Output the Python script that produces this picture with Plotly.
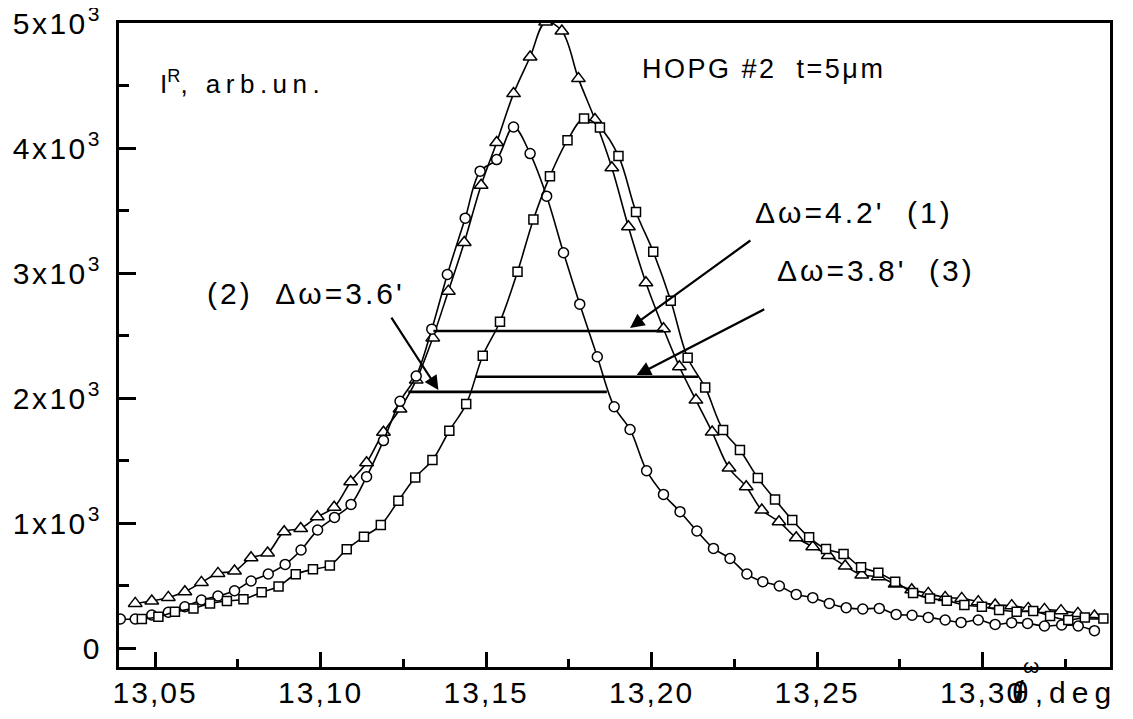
import plotly.graph_objects as go

# ---- data ----
tri_x = [13.044, 13.049, 13.054, 13.059, 13.064, 13.069, 13.074, 13.079, 13.084, 13.089,
         13.094, 13.099, 13.1041, 13.1091, 13.1139, 13.119, 13.124, 13.1289, 13.1339, 13.1386,
         13.1434, 13.1485, 13.1532, 13.1583, 13.1633, 13.168, 13.1729, 13.1779, 13.1829, 13.188,
         13.193, 13.1983, 13.2036, 13.2084, 13.2134, 13.2183, 13.2234, 13.2286, 13.2333, 13.2385,
         13.2437, 13.2487, 13.2534, 13.2585, 13.2635, 13.2685, 13.2736, 13.2786, 13.2836, 13.2887,
         13.2937, 13.2987, 13.3038, 13.3088, 13.3138, 13.3187, 13.3237, 13.3288, 13.3338]
tri_y = [357, 376, 405, 450, 525, 597, 616, 722, 760, 930,
         957, 1050, 1126, 1331, 1483, 1727, 1913, 2144, 2482, 2856,
         3245, 3704, 4046, 4437, 4730, 5010, 4938, 4557, 4229, 3843,
         3371, 2923, 2555, 2251, 1984, 1728, 1440, 1291, 1104, 1011,
         883, 811, 741, 656, 584, 571, 512, 466, 437, 405,
         397, 371, 344, 339, 317, 309, 299, 277, 256]

circ_x = [13.0395, 13.044, 13.049, 13.054, 13.059, 13.064, 13.069, 13.074, 13.079, 13.0842,
          13.0893, 13.0941, 13.0991, 13.1042, 13.1092, 13.1139, 13.119, 13.124, 13.1289, 13.1336,
          13.1383, 13.1437, 13.1482, 13.1532, 13.1583, 13.1633, 13.1683, 13.1734, 13.1783, 13.1836,
          13.1887, 13.1935, 13.1985, 13.2036, 13.2086, 13.2137, 13.2187, 13.2237, 13.2288, 13.2336,
          13.2386, 13.2437, 13.2487, 13.2537, 13.2588, 13.2638, 13.2688, 13.2739, 13.2787, 13.2836,
          13.2887, 13.2935, 13.2987, 13.3038, 13.3088, 13.3136, 13.3187, 13.3239, 13.3289, 13.3338]
circ_y = [232, 232, 264, 286, 330, 384, 416, 458, 536, 592,
          669, 784, 944, 1045, 1149, 1371, 1660, 1974, 2176, 2552,
          2989, 3440, 3816, 3909, 4170, 3957, 3616, 3163, 2752, 2331,
          1931, 1749, 1419, 1229, 1091, 936, 797, 716, 592, 531,
          496, 429, 403, 357, 323, 312, 317, 269, 262, 245,
          224, 205, 224, 189, 203, 197, 176, 184, 176, 139]

sq_x = [13.046, 13.051, 13.056, 13.0616, 13.0666, 13.0717, 13.0767, 13.0822, 13.0873, 13.0925,
        13.0977, 13.1028, 13.1079, 13.1131, 13.1182, 13.1235, 13.1286, 13.1338, 13.1389, 13.144,
        13.149, 13.1542, 13.1595, 13.1643, 13.1693, 13.1746, 13.1796, 13.1844, 13.19, 13.1953,
        13.2005, 13.2058, 13.2109, 13.2162, 13.2216, 13.2267, 13.2321, 13.2373, 13.2425, 13.2476,
        13.2527, 13.258, 13.2633, 13.2685, 13.2736, 13.279, 13.2841, 13.2892, 13.2945, 13.2998,
        13.305, 13.3103, 13.3153, 13.3204, 13.3259, 13.3309, 13.3365]
sq_y = [232, 250, 290, 317, 357, 376, 390, 446, 493, 590,
        630, 661, 790, 891, 984, 1179, 1364, 1504, 1739, 1952,
        2339, 2611, 3011, 3429, 3776, 4064, 4237, 4165, 3938, 3490,
        3171, 2779, 2323, 2085, 1744, 1584, 1361, 1189, 1024, 886,
        792, 752, 646, 603, 531, 440, 397, 379, 344, 331,
        304, 291, 296, 256, 224, 245, 237]

# FWHM bars: (1) triangles, (3) squares, (2) circles
fwhm_x0 = [13.1341, 13.1467, 13.1265]
fwhm_x1 = [13.2036, 13.2141, 13.1865]
fwhm_y = [2537, 2171, 2050]

# arrows: tail -> tip
arrow_tail_x = [13.2303, 13.2345, 13.1211]
arrow_tail_y = [3270, 2717, 2656]
arrow_tip_x = [13.1935, 13.1955, 13.1356]
arrow_tip_y = [2562, 2184, 2064]

x_tickvals = [13.05, 13.10, 13.15, 13.20, 13.25, 13.30]
x_ticklabels = ["13,05", "13,10", "13,15", "13,20", "13,25", "13,30"]
y_tickvals = [0, 1000, 2000, 3000, 4000, 5000]
y_ticklabels = ["0", "1x10<sup>3</sup>", "2x10<sup>3</sup>", "3x10<sup>3</sup>",
                "4x10<sup>3</sup>", "5x10<sup>3</sup>"]

FONT = "Liberation Sans, Arial, Helvetica, sans-serif"
NB = "\u00a0"


def spaced(text, px):
    return '<span style="letter-spacing:%spx">%s</span>' % (px, text)


fig = go.Figure()


def add_series(xs, ys, symbol, size):
    fig.add_trace(go.Scatter(
        x=xs, y=ys, mode="lines+markers",
        line=dict(color="black", width=1.6, shape="spline", smoothing=1.0),
        marker=dict(symbol=symbol, size=size, color="white",
                    line=dict(color="black", width=1.5)),
        showlegend=False, hoverinfo="skip"))


add_series(tri_x, tri_y, "triangle-up", 12)
add_series(circ_x, circ_y, "circle", 10)
add_series(sq_x, sq_y, "square", 9)

for x0, x1, y in zip(fwhm_x0, fwhm_x1, fwhm_y):
    fig.add_trace(go.Scatter(x=[x0, x1], y=[y, y], mode="lines",
                             line=dict(color="black", width=2.6),
                             showlegend=False, hoverinfo="skip"))

annotations = []
for tx, ty, hx, hy in zip(arrow_tail_x, arrow_tail_y, arrow_tip_x, arrow_tip_y):
    annotations.append(dict(x=hx, y=hy, ax=tx, ay=ty, xref="x", yref="y",
                            axref="x", ayref="y", text="", showarrow=True,
                            arrowhead=2, arrowsize=1.3, arrowwidth=2.2,
                            arrowcolor="black"))


def label(text, x, y, size, xanchor="left", ref="x"):
    annotations.append(dict(x=x, y=y, xref=ref, yref=("y" if ref == "x" else "paper"),
                            text=text, showarrow=False, xanchor=xanchor, yanchor="middle",
                            font=dict(family=FONT, size=size, color="black")))


label("I<sup>R</sup>" + spaced(", arb.un.", 5.5), 13.0509, 4528, 26)
label(spaced("HOPG #2" + NB + NB + "t=5μm", 2.5), 13.1965, 4632, 27)
label(spaced("Δω=4.2'" + NB + NB + "(1)", 3), 13.2307, 3488, 30)
label(spaced("Δω=3.8'" + NB + NB + "(3)", 3), 13.2373, 3024, 30)
label(spaced("(2)" + NB + NB + "Δω=3.6'", 3), 13.0651, 2840, 30)
# axis title  ω/θ, deg (paper coordinates, below the plot area)
label(spaced("θ,deg", 6), 0.899, -0.039, 30, ref="paper")
label("ω", 0.920, 0.003, 21, xanchor="center", ref="paper")
label("/", 0.909, -0.039, 31, xanchor="center", ref="paper")

# page body has an 8px margin: size the figure to fit the 1133x719 window
fig.update_layout(
    width=1117, height=703,
    margin=dict(l=111, r=15, t=15, b=44),
    paper_bgcolor="white", plot_bgcolor="white",
    font=dict(family=FONT, size=30, color="black"),
    annotations=annotations,
    xaxis=dict(range=[13.0391, 13.3385], showgrid=False, zeroline=False,
               showline=True, linecolor="black", linewidth=3, mirror=True,
               automargin=False, ticklabeloverflow="allow",
               ticks="inside", ticklen=15, tickwidth=2.5, tickcolor="black",
               tickvals=x_tickvals, ticktext=[spaced(t, 2) for t in x_ticklabels],
               tickfont=dict(family=FONT, size=30, color="black"),
               ticklabelstandoff=-3,
               minor=dict(ticks="inside", ticklen=8, tickwidth=2.5, tickcolor="black",
                          tick0=13.025, dtick=0.05)),
    yaxis=dict(range=[-152, 5002], showgrid=False, zeroline=False,
               showline=True, linecolor="black", linewidth=3, mirror=True,
               automargin=False, ticklabeloverflow="allow",
               ticks="inside", ticklen=17, tickwidth=2.5, tickcolor="black",
               tickvals=y_tickvals, ticktext=[spaced(t, 2.5) for t in y_ticklabels],
               tickfont=dict(family=FONT, size=30, color="black"),
               ticklabelstandoff=8,
               minor=dict(ticks="inside", ticklen=10, tickwidth=2.5, tickcolor="black",
                          tick0=500, dtick=1000)),
)

fig.write_html("out.html")
